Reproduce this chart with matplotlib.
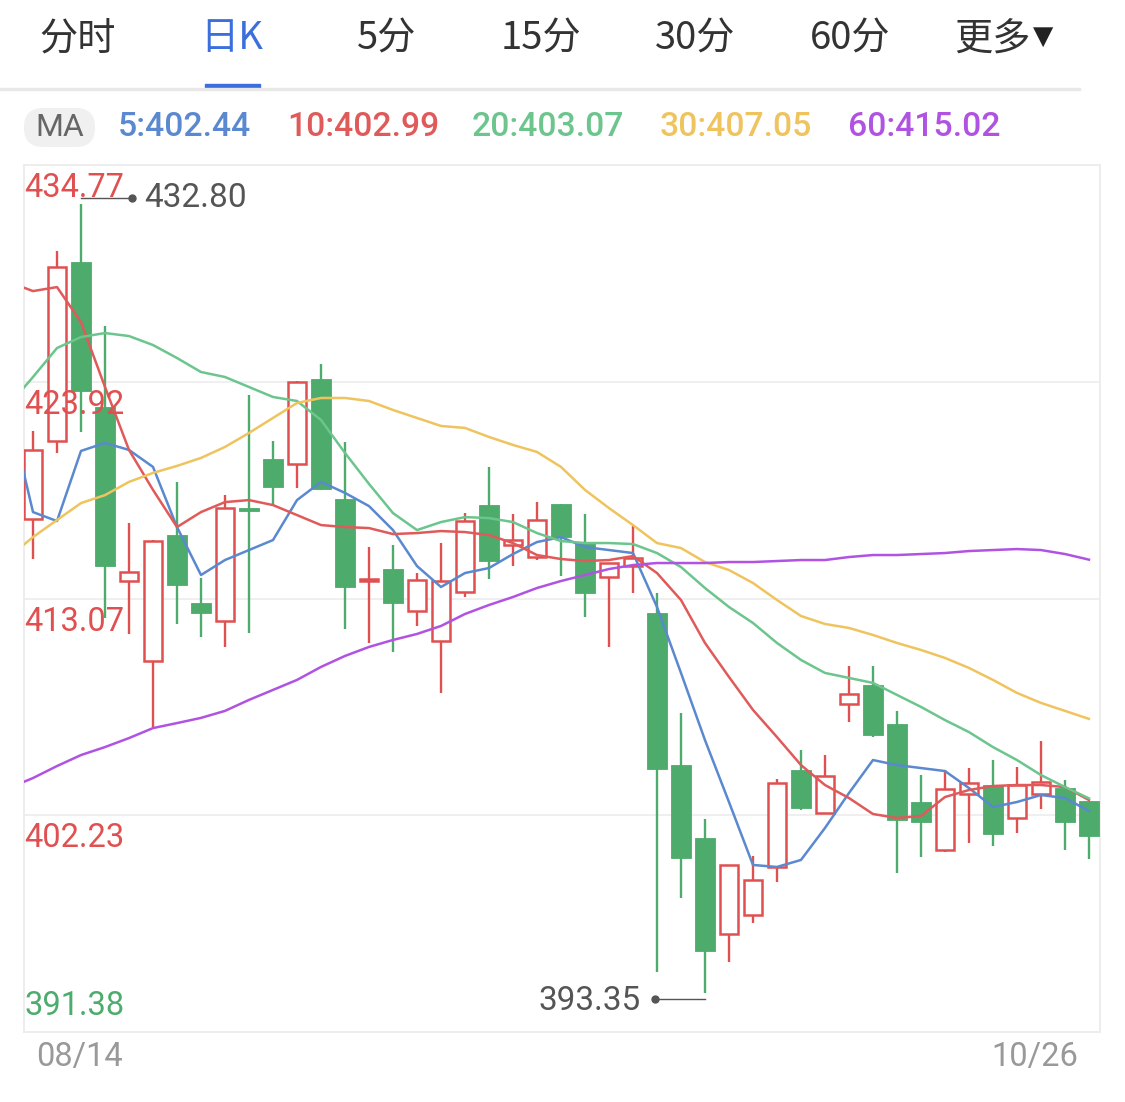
import numpy as np
import matplotlib.pyplot as plt
from matplotlib.patches import FancyBboxPatch, Rectangle
from matplotlib.transforms import IdentityTransform

W, H = 1125, 1102

tabs = ['分时', '日K', '5分', '15分', '30分', '60分', '更多']
active_tab = '日K'
dates = ['08/14', '10/26']
y_labels = [434.77, 423.92, 413.07, 402.23, 391.38]

# daily candles 08/14 .. 10/26
opens = [417.05, 420.96, 429.92, 422.66, 413.95, 409.95, 416.25, 412.85, 411.95, 417.60,
         420.06, 419.81, 424.06, 418.05, 413.95, 414.55, 412.45, 410.95, 413.40, 417.75,
         415.75, 415.15, 417.80, 415.85, 414.15, 414.70, 412.35, 404.74, 401.09, 396.29,
         397.24, 399.64, 404.49, 402.34, 407.80, 408.75, 406.79, 402.89, 400.49, 403.29,
         403.74, 402.09, 403.29, 403.59, 402.94]
highs = [421.46, 430.47, 432.80, 426.71, 416.85, 416.00, 418.91, 414.10, 418.25, 423.26,
         420.96, 423.96, 424.81, 420.91, 415.65, 415.75, 414.35, 415.85, 417.35, 419.66,
         417.30, 417.90, 417.80, 417.30, 414.85, 416.70, 413.35, 407.35, 402.04, 399.74,
         400.19, 404.04, 405.49, 405.24, 409.70, 409.70, 407.45, 404.24, 404.49, 404.59,
         404.99, 404.64, 405.94, 403.99, 402.94]
lows = [415.05, 420.36, 421.41, 412.10, 411.30, 406.64, 411.80, 411.15, 410.65, 411.35,
        417.75, 418.61, 418.50, 411.55, 410.85, 410.40, 411.70, 408.35, 413.15, 414.05,
        414.70, 415.00, 414.20, 412.15, 410.65, 413.35, 394.38, 398.09, 393.35, 394.88,
        396.84, 398.89, 402.50, 402.30, 406.89, 406.14, 399.34, 400.14, 400.39, 400.84,
        400.69, 401.34, 402.54, 400.49, 400.04]
closes = [420.51, 429.67, 423.46, 414.70, 414.40, 415.95, 413.75, 412.35, 417.60, 417.45,
          418.66, 423.91, 418.56, 413.65, 414.05, 412.85, 414.00, 413.95, 416.95, 414.95,
          416.00, 417.00, 416.15, 413.35, 414.85, 415.10, 404.54, 400.09, 395.43, 399.74,
          398.99, 403.84, 402.59, 404.19, 408.30, 406.24, 401.99, 401.89, 403.54, 403.84,
          401.29, 403.74, 403.89, 401.89, 401.19]

# moving averages, first value is the trading day before 08/14
ma_periods = [5, 10, 20, 30, 60]
ma5 = [422.51, 417.40, 416.95, 420.46, 420.86, 420.51, 419.66, 416.65, 414.25, 415.00,
       415.50, 416.00, 418.00, 418.91, 418.36, 417.70, 416.50, 414.70, 413.65, 414.35,
       414.60, 415.30, 415.90, 416.15, 415.65, 415.50, 415.35, 412.65, 409.35, 405.99,
       402.89, 399.74, 399.64, 399.99, 401.59, 403.34, 404.99, 404.74, 404.59, 404.44,
       403.59, 402.64, 402.89, 403.24, 403.09, 402.44]
ma10 = [428.91, 428.46, 428.66, 426.91, 423.66, 420.51, 418.51, 416.65, 417.40, 417.90,
        418.00, 417.75, 417.25, 416.75, 416.65, 416.60, 416.30, 416.35, 416.45, 416.40,
        416.25, 415.85, 415.25, 415.05, 414.95, 415.00, 415.20, 414.35, 413.00, 410.85,
        409.15, 407.50, 406.14, 404.74, 403.74, 403.09, 402.29, 402.09, 402.19, 403.14,
        403.49, 403.69, 403.74, 403.74, 403.64, 402.99]
ma20 = [422.76, 424.16, 425.61, 426.16, 426.36, 426.21, 425.76, 425.11, 424.41, 424.16,
        423.66, 423.16, 422.96, 422.01, 420.36, 418.81, 417.35, 416.50, 416.90, 417.15,
        417.10, 416.90, 416.35, 415.95, 415.85, 415.85, 415.80, 415.35, 414.65, 413.60,
        412.65, 411.85, 410.85, 410.00, 409.35, 409.10, 408.85, 408.25, 407.65, 406.99,
        406.39, 405.64, 404.99, 404.24, 403.64, 403.07]
ma30 = [415.15, 416.15, 417.00, 417.85, 418.25, 418.91, 419.36, 419.71, 420.11, 420.66,
        421.36, 422.11, 422.86, 423.11, 423.11, 422.96, 422.51, 422.11, 421.71, 421.61,
        421.16, 420.76, 420.41, 419.66, 418.51, 417.60, 416.75, 415.85, 415.60, 414.90,
        414.50, 413.85, 413.00, 412.20, 411.80, 411.60, 411.25, 410.85, 410.50, 410.10,
        409.60, 409.00, 408.35, 407.85, 407.45, 407.05]
ma60 = [403.59, 404.09, 404.69, 405.24, 405.64, 406.09, 406.59, 406.84, 407.10, 407.45,
        408.00, 408.50, 409.00, 409.65, 410.20, 410.65, 411.00, 411.30, 411.70, 412.30,
        412.75, 413.15, 413.60, 413.95, 414.25, 414.55, 414.75, 414.85, 414.85, 414.85,
        414.90, 414.90, 414.95, 415.00, 415.00, 415.15, 415.25, 415.25, 415.30, 415.35,
        415.45, 415.50, 415.55, 415.50, 415.30, 415.02]

ma_colors = ['#5a89cf', '#e05a5a', '#6cc58d', '#efc45f', '#b153e2']
RED = '#e05050'
GREEN = '#4dab6c'
CJK = ['Noto Sans CJK SC', 'DejaVu Sans']
plt.rcParams['font.family'] = ['Roboto', 'Noto Sans CJK SC', 'DejaVu Sans']

fig = plt.figure(figsize=(W / 100, H / 100), dpi=100)
fig.patch.set_facecolor('white')

# tab bar
for i, t in enumerate(tabs):
    cx = 77.5 + 154.5 * i
    col = '#3b6fdc' if t == active_tab else '#333333'
    if t == '更多':
        fig.text((cx - 12) / W, 1 - 39 / H, t, ha='center', va='center', fontsize=27.5,
                 family=CJK, color=col)
        fig.text((cx + 39) / W, 1 - 37 / H, '▼', ha='center', va='center', fontsize=19,
                 family=['DejaVu Sans'], color='#222222')
    else:
        fig.text(cx / W, 1 - 39 / H, t, ha='center', va='center', fontsize=27.5,
                 family=CJK, color=col)
fig.add_artist(Rectangle((205, H - 88), 55, 4, color='#3b6fdc', transform=IdentityTransform()))
fig.add_artist(Rectangle((0, H - 90), 1080, 2, color='#e8e8e8', transform=IdentityTransform()))

# MA legend
fig.add_artist(FancyBboxPatch((24, H - 147), 71, 39, boxstyle='round,pad=0,rounding_size=19',
                              fc='#f0f0f0', ec='none', transform=IdentityTransform()))
fig.text(59.5 / W, 1 - 127 / H, 'MA', ha='center', va='center', fontsize=23, color='#666666')
legend_x = [118, 287, 472, 660, 848]
ma_series = [ma5, ma10, ma20, ma30, ma60]
for lx, p, vals, col in zip(legend_x, ma_periods, ma_series, ma_colors):
    fig.text(lx / W, 1 - 126.5 / H, f'{p}:{vals[-1]:.2f}', ha='left', va='center',
             fontsize=24.3, fontweight='medium', color=col)

# price panel
ax = fig.add_axes([24 / W, 1 - 1032 / H, 1076 / W, 867 / H])
xlim = (-0.375, 44.46)
ylim = (y_labels[-1], y_labels[0])
ax.set_xlim(*xlim)
ax.set_ylim(*ylim)
ax.set_xticks([])
ax.set_yticks([])
for s in ax.spines.values():
    s.set_color('#ececec')
    s.set_linewidth(1.3)
for v in y_labels[1:-1]:
    ax.axhline(v, color='#eeeeee', lw=1.3, zorder=0)

o, h, l, c = map(np.array, (opens, highs, lows, closes))
idx = np.arange(len(c))
up = c >= o
lo_b = np.minimum(o, c)
hi_b = np.maximum(o, c)
ax.vlines(idx[up], l[up], lo_b[up], color=RED, lw=1.7, zorder=2)
ax.vlines(idx[up], hi_b[up], h[up], color=RED, lw=1.7, zorder=2)
ax.vlines(idx[~up], l[~up], h[~up], color=GREEN, lw=1.7, zorder=2)
ax.bar(idx[up], hi_b[up] - lo_b[up], bottom=lo_b[up], width=0.76, facecolor='white',
       edgecolor=RED, linewidth=1.8, zorder=3)
ax.bar(idx[~up], hi_b[~up] - lo_b[~up], bottom=lo_b[~up], width=0.82, color=GREEN,
       edgecolor=GREEN, linewidth=0.6, zorder=3)

ma_x = np.arange(-1, len(c))
for vals, col in zip(ma_series, ma_colors):
    ax.plot(ma_x, vals, color=col, lw=1.8, zorder=4, solid_joinstyle='round')

# axis value labels
for i, v in enumerate(y_labels):
    last = i == len(y_labels) - 1
    ax.annotate(f'{v:.2f}', xy=(0, v), xycoords=('axes fraction', 'data'),
                xytext=(0, 17 if last else -32), textcoords='offset pixels',
                ha='left', va='baseline', fontsize=23.5, color=GREEN if last else RED, zorder=6)

# highest / lowest markers
px_x = (xlim[1] - xlim[0]) / 1076
px_y = (ylim[1] - ylim[0]) / 867
ih = int(np.argmax(h))
yh = h[ih] + 6 * px_y
ax.plot([ih, ih + 51 * px_x], [yh, yh], color='#555555', lw=1, zorder=5)
ax.plot(ih + 51 * px_x, yh, 'o', ms=5, color='#555555', zorder=5)
ax.text(ih + 63 * px_x, yh, f'{h[ih]:.2f}', ha='left', va='center', fontsize=24,
        color='#555555', zorder=6)
il = int(np.argmin(l))
yl = l[il] - 6 * px_y
ax.plot([il, il - 50 * px_x], [yl, yl], color='#555555', lw=1, zorder=5)
ax.plot(il - 50 * px_x, yl, 'o', ms=5, color='#555555', zorder=5)
ax.text(il - 64 * px_x, yl - 2 * px_y, f'{l[il]:.2f}', ha='right', va='center', fontsize=24,
        color='#555555', zorder=6)

# date labels
ax.annotate(dates[0], xy=(0, 0), xycoords='axes fraction', xytext=(12, -34),
            textcoords='offset pixels', ha='left', va='baseline', fontsize=23.5, color='#999999')
ax.annotate(dates[1], xy=(1, 0), xycoords='axes fraction', xytext=(-22, -34),
            textcoords='offset pixels', ha='right', va='baseline', fontsize=23.5, color='#999999')

fig.savefig('out.png', dpi=100, facecolor='white')
